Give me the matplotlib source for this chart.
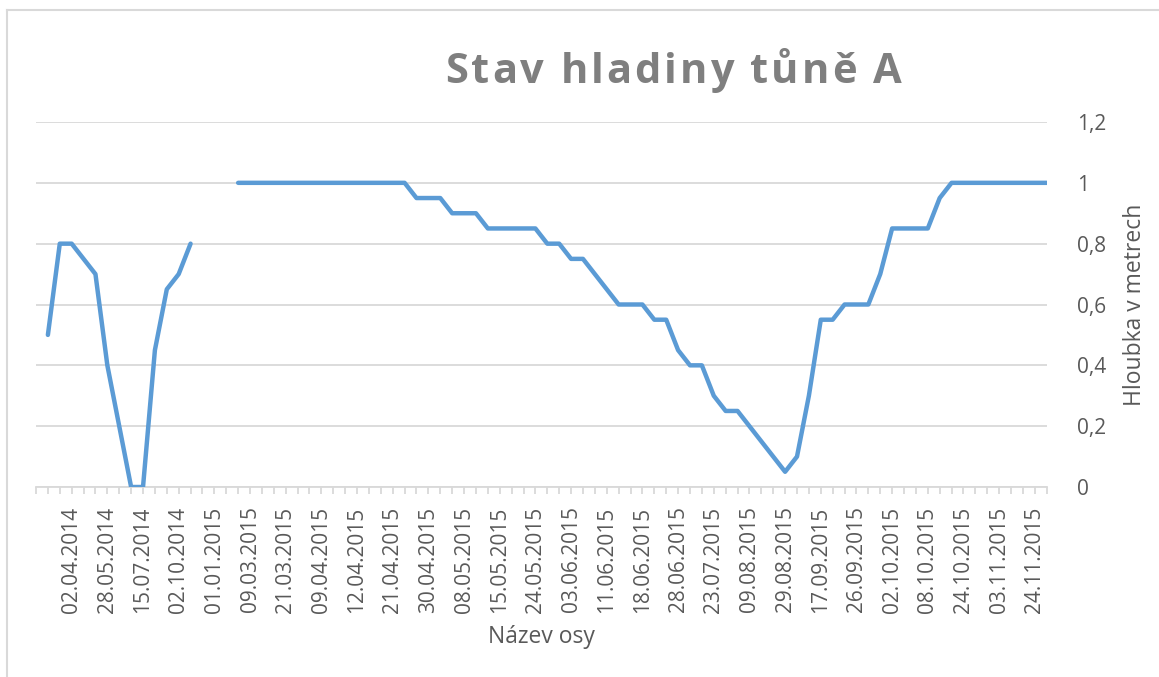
import numpy as np
import matplotlib
matplotlib.use("Agg")
import matplotlib.pyplot as plt
from matplotlib.font_manager import FontProperties

# water level per measurement (category order), None = no measurement
hladina = [None, 0.5, 0.8, 0.8, 0.75, 0.7, 0.4, 0.2, 0.0, 0.0,
           0.45, 0.65, 0.7, 0.8, None, None, None,
           1.0, 1.0, 1.0, 1.0, 1.0, 1.0, 1.0, 1.0, 1.0, 1.0, 1.0, 1.0, 1.0, 1.0, 1.0,
           0.95, 0.95, 0.95, 0.9, 0.9, 0.9, 0.85, 0.85, 0.85, 0.85, 0.85,
           0.8, 0.8, 0.75, 0.75, 0.7, 0.65, 0.6, 0.6, 0.6, 0.55, 0.55,
           0.45, 0.4, 0.4, 0.3, 0.25, 0.25, 0.2, 0.15, 0.1, 0.05, 0.1,
           0.3, 0.55, 0.55, 0.6, 0.6, 0.6, 0.7, 0.85, 0.85, 0.85, 0.85, 0.95,
           1.0, 1.0, 1.0, 1.0, 1.0, 1.0, 1.0, 1.0, 1.0]

# dates shown on the axis (every third measurement)
datumy = ["02.04.2014", "28.05.2014", "15.07.2014", "02.10.2014", "01.01.2015",
          "09.03.2015", "21.03.2015", "09.04.2015", "12.04.2015", "21.04.2015",
          "30.04.2015", "08.05.2015", "15.05.2015", "24.05.2015", "03.06.2015",
          "11.06.2015", "18.06.2015", "28.06.2015", "23.07.2015", "09.08.2015",
          "29.08.2015", "17.09.2015", "26.09.2015", "02.10.2015", "08.10.2015",
          "24.10.2015", "03.11.2015", "24.11.2015"]
label_step = 3

y_ticks = [0, 0.2, 0.4, 0.6, 0.8, 1.0, 1.2]
y_tick_labels = ["0", "0,2", "0,4", "0,6", "0,8", "1", "1,2"]

FONT = "Open Sans"
GRAY_TXT = "#595959"
GRID = "#d9d9d9"
BLUE = "#5b9bd5"

W, H = 1159, 677
fig = plt.figure(figsize=(W / 100, H / 100), dpi=100)
ax = fig.add_axes([36 / W, 1 - 487 / H, (1046.7 - 36) / W, (487 - 122) / H])

vals = np.array([np.nan if v is None else v for v in hladina], dtype=float)
x = np.arange(len(vals))
ax.plot(x, vals, color=BLUE, lw=3.2, solid_capstyle="round",
        solid_joinstyle="round", zorder=3)

ax.set_xlim(0, len(vals) - 1)
ax.set_ylim(0, 1.2)

for s in ["top", "left", "right"]:
    ax.spines[s].set_visible(False)
ax.spines["bottom"].set_color(GRID)
ax.spines["bottom"].set_linewidth(1.3)

ax.yaxis.tick_right()
ax.set_yticks(y_ticks)
ax.set_yticklabels(y_tick_labels, fontname=FONT, fontsize=15, color=GRAY_TXT, ha="left")
ax.tick_params(axis="y", length=0, pad=22)
ax.grid(axis="y", color=GRID, lw=1.3, zorder=0)

ax.set_xticks(x, minor=True)
ax.set_xticks(x[label_step::label_step][:len(datumy)])
ax.set_xticklabels(datumy, rotation=90, fontname=FONT, fontsize=15, color=GRAY_TXT)
ax.tick_params(axis="x", which="both", length=5, width=1.3, color=GRID, pad=9)

ax.yaxis.set_label_position("right")
ax.set_ylabel("Hloubka v metrech", fontname=FONT, fontsize=16.5, color=GRAY_TXT, labelpad=12)
ax.set_xlabel("Název osy", fontname=FONT, fontsize=16.5, color=GRAY_TXT, labelpad=9)

# title with wide letter spacing, placed character by character
title = "Stav hladiny tůně A"
fp = FontProperties(family=FONT, weight="bold", size=30)
renderer = fig.canvas.get_renderer()
left_px, right_px, base_px = 445, 902, 83
full_w = renderer.get_text_width_height_descent(title, fp, ismath=False)[0]
gap = (right_px - left_px - full_w) / (len(title) - 1)
for i, ch in enumerate(title):
    pre = renderer.get_text_width_height_descent(title[:i], fp, ismath=False)[0] if i else 0
    fig.text((left_px + pre + i * gap) / W, 1 - base_px / H, ch, fontproperties=fp,
             color="#7f7f7f", ha="left", va="baseline")

# chart area border (only top and left visible in the crop)
fig.add_artist(plt.Line2D([7 / W, 1], [1 - 10 / H, 1 - 10 / H], color=GRID, lw=1.5))
fig.add_artist(plt.Line2D([7 / W, 7 / W], [0, 1 - 10 / H], color=GRID, lw=1.5))

fig.savefig("out.png", dpi=100)
